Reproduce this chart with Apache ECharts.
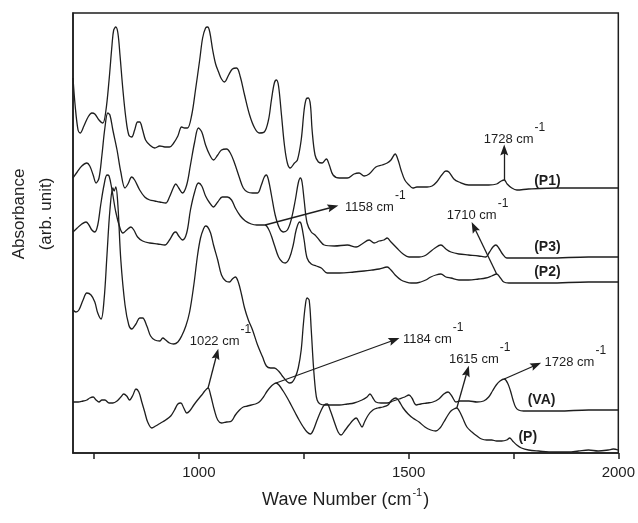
<!DOCTYPE html>
<html>
<head>
<meta charset="utf-8">
<script src="https://cdn.jsdelivr.net/npm/echarts@6/dist/echarts.min.js"></script>
<style>
html,body{margin:0;padding:0;background:#fff;}
#chart{width:638px;height:523px;}
</style>
</head>
<body>
<div id="chart"></div>
<script>
// Axis ticks and labels (wavenumber, cm-1)
const wavenumberTicks = [750, 1000, 1250, 1500, 1750, 2000];
const wavenumberLabels = [1000, 1500, 2000];

// FTIR spectra: [wavenumber (cm-1), absorbance (arb. unit, stacked offsets)]
const specP1 = [
  [700,375],[705,348],[712,323],[717,320],[726,327],[736,336],[745,340],[752,339],[762,333],[771,330],
  [778,341],[786,373],[793,408],[797,423],[802,426],[807,420],[812,398],[819,363],[826,335],[833,318],
  [840,316],[847,323],[854,331],[859,331],[866,323],[873,313],[883,308],[895,305],[907,307],[919,306],
  [930,306],[940,310],[950,317],[959,326],[966,325],[973,325],[983,338],[992,363],[1002,393],[1009,415],
  [1016,425],[1021,426],[1026,421],[1033,403],[1040,389],[1047,381],[1054,374],[1061,371],[1071,378],
  [1080,384],[1090,385],[1099,376],[1109,358],[1121,338],[1133,325],[1144,320],[1156,321],[1166,333],
  [1173,353],[1180,370],[1185,373],[1190,367],[1197,338],[1204,308],[1211,290],[1218,285],[1228,290],
  [1235,293],[1244,313],[1251,343],[1256,354],[1261,355],[1266,348],[1270,323],[1277,298],[1285,291],
  [1294,290],[1304,294],[1311,288],[1320,278],[1335,275],[1354,275],[1370,279],[1382,280],[1394,277],
  [1406,279],[1422,286],[1437,288],[1449,290],[1458,293],[1468,299],[1475,293],[1482,283],[1491,273],
  [1501,268],[1510,265],[1520,266],[1532,266],[1544,266],[1556,267],[1567,271],[1579,278],[1589,282],
  [1596,281],[1608,274],[1620,271],[1643,268],[1667,268],[1691,268],[1710,269],[1721,272],[1728,273],
  [1735,269],[1746,265],[1758,263],[1786,264],[1857,265],[1929,265],[2000,265]
];
const specP3 = [
  [700,275],[710,281],[721,287],[733,290],[740,287],[748,278],[755,270],[762,275],[769,298],[776,325],
  [783,340],[788,338],[795,323],[805,303],[814,281],[824,265],[831,269],[840,276],[847,273],[859,263],
  [871,256],[883,253],[895,252],[907,251],[921,250],[930,256],[940,266],[945,269],[952,265],[961,260],
  [971,268],[980,288],[990,311],[999,325],[1007,321],[1016,308],[1026,298],[1035,293],[1045,298],
  [1054,303],[1066,304],[1075,300],[1085,290],[1097,275],[1106,265],[1116,261],[1128,260],[1140,260],
  [1149,268],[1156,276],[1161,278],[1166,273],[1173,258],[1182,238],[1192,225],[1201,221],[1211,223],
  [1220,233],[1230,253],[1237,270],[1242,275],[1246,271],[1251,253],[1258,230],[1268,221],[1277,218],
  [1287,213],[1299,208],[1323,207],[1354,208],[1375,206],[1389,209],[1406,213],[1418,210],[1430,212],
  [1441,213],[1449,215],[1458,211],[1472,205],[1487,199],[1501,196],[1513,196],[1525,196],[1537,197],
  [1548,200],[1563,205],[1577,208],[1589,204],[1601,201],[1620,199],[1643,198],[1667,197],[1684,196],
  [1693,201],[1701,206],[1708,208],[1715,205],[1724,199],[1734,195],[1750,195],[1834,195],[1929,196],
  [2000,196]
];
const specP2 = [
  [700,221],[710,225],[721,229],[731,231],[738,228],[745,223],[752,221],[759,228],[766,248],[774,268],
  [781,278],[786,277],[793,263],[802,241],[812,225],[819,220],[828,223],[838,226],[845,223],[854,216],
  [866,212],[883,210],[902,209],[919,208],[930,213],[940,220],[945,221],[952,217],[961,213],[971,220],
  [980,243],[990,261],[999,270],[1007,267],[1016,257],[1026,250],[1035,246],[1045,251],[1056,256],
  [1068,256],[1078,253],[1087,245],[1099,237],[1111,232],[1125,229],[1138,228],[1148,228],[1158,228],
  [1166,224],[1173,217],[1180,208],[1190,196],[1199,191],[1206,190],[1216,195],[1225,208],[1232,223],
  [1240,231],[1244,229],[1251,213],[1258,195],[1268,189],[1280,187],[1292,185],[1306,180],[1335,180],
  [1370,181],[1394,182],[1413,183],[1430,184],[1449,186],[1458,183],[1468,178],[1482,173],[1494,171],
  [1506,170],[1518,170],[1529,171],[1541,173],[1553,176],[1565,178],[1577,179],[1589,176],[1601,175],
  [1620,173],[1643,173],[1667,174],[1684,175],[1698,177],[1710,179],[1719,175],[1727,171],[1739,170],
  [1834,170],[1929,171],[2000,171]
];
const specVA = [
  [700,143],[707,141],[714,143],[724,153],[733,160],[743,158],[752,151],[759,140],[767,134],[774,153],
  [781,198],[788,243],[795,265],[798,262],[802,266],[807,248],[814,193],[824,148],[833,128],[840,124],
  [850,129],[859,135],[866,135],[876,127],[885,117],[895,113],[907,112],[914,115],[921,113],[930,110],
  [940,109],[950,111],[959,117],[969,127],[978,141],[988,168],[997,198],[1004,215],[1011,224],[1016,227],
  [1021,226],[1028,220],[1035,208],[1045,193],[1054,178],[1064,172],[1073,171],[1080,174],[1087,176],
  [1094,171],[1102,158],[1109,145],[1118,133],[1128,123],[1140,108],[1152,96],[1161,87],[1171,85],
  [1180,85],[1190,82],[1199,77],[1209,72],[1216,70],[1223,71],[1230,76],[1237,85],[1244,103],[1249,128],
  [1254,148],[1258,155],[1263,153],[1268,123],[1273,88],[1278,63],[1282,53],[1289,49],[1301,48],
  [1318,48],[1335,48],[1354,49],[1370,50],[1389,53],[1401,56],[1408,59],[1415,55],[1422,51],[1434,50],
  [1449,50],[1463,52],[1477,54],[1491,56],[1501,58],[1508,55],[1518,48],[1529,49],[1544,50],[1558,51],
  [1572,54],[1584,59],[1594,61],[1603,57],[1613,51],[1622,52],[1632,52],[1644,52],[1663,51],[1679,52],
  [1691,56],[1700,62],[1709,68],[1718,72],[1728,74],[1736,70],[1743,62],[1749,53],[1755,46],[1762,43],
  [1774,42],[1857,42],[1929,43],[2000,43]
];
const specP = [
  [700,51],[712,51],[724,52],[733,53],[740,55],[748,56],[755,53],[762,51],[769,53],[776,53],
  [786,50],[795,50],[805,52],[814,56],[821,59],[828,57],[835,53],[843,58],[850,64],[857,61],
  [864,51],[871,41],[878,31],[888,25],[897,27],[909,30],[921,33],[933,37],[942,43],[950,49],
  [957,50],[964,45],[971,40],[978,42],[988,48],[997,53],[1007,58],[1014,62],[1022,65],[1028,58],
  [1037,43],[1045,33],[1054,30],[1066,31],[1078,32],[1087,38],[1097,43],[1106,46],[1116,47],[1125,48],
  [1135,49],[1144,51],[1154,56],[1163,62],[1173,67],[1179,69],[1184,70],[1191,68],[1201,62],[1211,55],
  [1220,48],[1230,40],[1239,33],[1249,26],[1258,21],[1266,19],[1273,23],[1282,33],[1292,43],[1299,48],
  [1306,49],[1313,43],[1323,31],[1332,21],[1339,18],[1349,23],[1358,28],[1368,33],[1375,35],[1383,30],
  [1389,26],[1395,31],[1404,38],[1415,43],[1427,45],[1439,46],[1451,48],[1460,53],[1470,55],[1477,52],
  [1487,45],[1499,39],[1510,35],[1525,31],[1539,26],[1553,23],[1565,22],[1575,25],[1584,31],[1594,38],
  [1601,42],[1608,44],[1615,45],[1621,42],[1629,35],[1639,26],[1651,21],[1663,17],[1674,14],[1686,13],
  [1698,13],[1710,12],[1722,12],[1734,13],[1741,15],[1748,12],[1758,8],[1769,5],[1786,3],[1810,2],
  [1846,1],[1881,1],[1905,2],[1929,3],[1952,2],[1976,3],[1988,4],[2000,3]
];

// Band assignments: arrow start (on curve), arrow head, text anchor (end of "cm")
const bandNotes = [
  { series: 'P1', text: '1728 cm', from: [1728, 273], to: [1728, 303], anchor: [1798, 314] },
  { series: 'P2', text: '1158 cm', from: [1158, 228], to: [1320, 246], anchor: [1465, 246] },
  { series: 'P2', text: '1710 cm', from: [1710, 179], to: [1656, 226], anchor: [1710, 238] },
  { series: 'P',  text: '1022 cm', from: [1022, 65],  to: [1043, 99],  anchor: [1097, 112] },
  { series: 'P',  text: '1184 cm', from: [1184, 70],  to: [1466, 113], anchor: [1603, 114] },
  { series: 'P',  text: '1615 cm', from: [1615, 45],  to: [1640, 82],  anchor: [1715, 94] },
  { series: 'VA', text: '1728 cm', from: [1728, 74],  to: [1804, 88],  anchor: [1943, 91] }
];

// Sample tags at the right-hand end of each trace
const sampleTags = [
  { text: '(P1)', at: [1831, 272] },
  { text: '(P3)', at: [1831, 206] },
  { text: '(P2)', at: [1831, 181] },
  { text: '(VA)', at: [1817, 53] },
  { text: '(P)',  at: [1784, 16] }
];

const spectra = [
  { name: 'P1', data: specP1 },
  { name: 'P3', data: specP3 },
  { name: 'P2', data: specP2 },
  { name: 'VA', data: specVA },
  { name: 'P',  data: specP }
];

const INK = '#1e1e1e';
const FONT = '"Liberation Sans", Arial, sans-serif';
const arrowHead = 'path://M5,0 L10,14 L5,11.5 L0,14 Z';

const chart = echarts.init(document.getElementById('chart'), null, { renderer: 'canvas' });

const series = spectra.map(s => ({
  name: s.name,
  type: 'line',
  data: s.data,
  smooth: 0.35,
  showSymbol: false,
  symbol: 'none',
  clip: true,
  lineStyle: { color: INK, width: 1.3 },
  emphasis: { disabled: true },
  markLine: {
    silent: true,
    symbol: ['none', arrowHead],
    symbolSize: [8, 11],
    label: { show: false },
    lineStyle: { color: INK, width: 1.3, type: 'solid' },
    emphasis: { disabled: true },
    data: bandNotes.filter(n => n.series === s.name).map(n => [
      { coord: n.from }, { coord: n.to }
    ])
  }
}));

chart.setOption({
  animation: false,
  backgroundColor: '#fff',
  grid: {
    left: 73, right: 18, top: 13, bottom: 70,
    show: true, borderColor: INK, borderWidth: 1.5, backgroundColor: 'transparent'
  },
  xAxis: {
    type: 'value',
    min: 700, max: 2000,
    name: '{t|Wave Number (cm}{s|-1}{t|)}',
    nameLocation: 'middle',
    nameGap: 34,
    nameTextStyle: {
      rich: {
        t: { fontFamily: FONT, fontSize: 18, color: INK, lineHeight: 22, verticalAlign: 'bottom' },
        s: { fontFamily: FONT, fontSize: 11, color: INK, lineHeight: 22, verticalAlign: 'top', padding: [0, 1, 0, 1] }
      }
    },
    axisLine: { show: true, lineStyle: { color: INK, width: 1.5 } },
    axisTick: { show: true, inside: false, length: 6, customValues: wavenumberTicks, lineStyle: { color: INK, width: 1.5 } },
    axisLabel: {
      show: true, customValues: wavenumberLabels, margin: 12,
      fontFamily: FONT, fontSize: 15, color: INK,
      formatter: v => String(v)
    },
    splitLine: { show: false }
  },
  yAxis: {
    type: 'value',
    min: 0, max: 440,
    axisLine: { show: true, lineStyle: { color: INK, width: 1.5 } },
    axisTick: { show: false },
    axisLabel: { show: false },
    splitLine: { show: false }
  },
  series: series
});

// Text annotations placed in data coordinates
const toPx = c => chart.convertToPixel({ gridIndex: 0 }, c);
const graphics = [];
bandNotes.forEach(n => {
  const p = toPx(n.anchor);
  graphics.push({
    type: 'text', x: p[0], y: p[1], silent: true,
    style: { text: n.text, fill: INK, font: '13px ' + FONT, align: 'right', verticalAlign: 'middle' }
  });
  graphics.push({
    type: 'text', x: p[0] + 1, y: p[1] - 11, silent: true,
    style: { text: '-1', fill: INK, font: '12px ' + FONT, align: 'left', verticalAlign: 'middle' }
  });
});
sampleTags.forEach(t => {
  const p = toPx(t.at);
  graphics.push({
    type: 'text', x: p[0], y: p[1], silent: true,
    style: { text: t.text, fill: INK, font: 'bold 14px ' + FONT, align: 'center', verticalAlign: 'middle' }
  });
});
// Vertical axis title
graphics.push({
  type: 'text', x: 33, y: 214, rotation: Math.PI / 2, silent: true,
  style: {
    text: 'Absorbance\n(arb. unit)', fill: INK, font: '17px ' + FONT,
    align: 'center', verticalAlign: 'middle', lineHeight: 27
  }
});
chart.setOption({ graphic: graphics });
</script>
</body>
</html>
